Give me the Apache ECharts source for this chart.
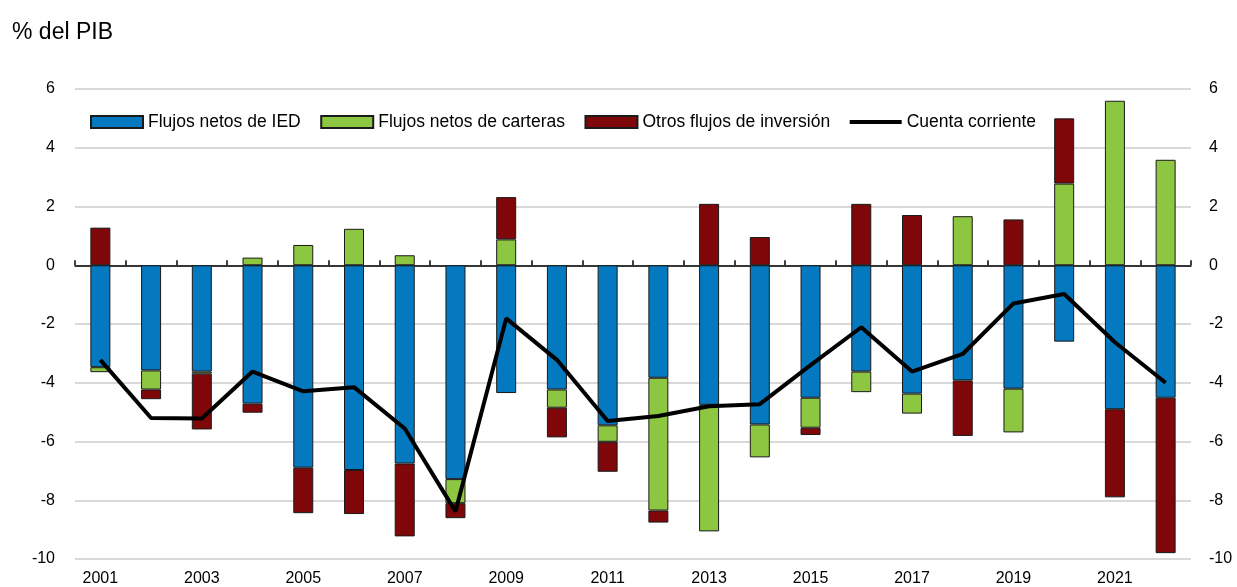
<!DOCTYPE html>
<html>
<head>
<meta charset="utf-8">
<script src="https://cdn.jsdelivr.net/npm/echarts@6/dist/echarts.min.js"></script>
<style>
html, body { margin: 0; padding: 0; background: #fff; }
#main { width: 1237px; height: 587px; }
</style>
</head>
<body>
<div id="main"></div>
<script>
// datos, % del PIB
var years = ["2001","2002","2003","2004","2005","2006","2007","2008","2009","2010","2011",
             "2012","2013","2014","2015","2016","2017","2018","2019","2020","2021","2022"];
var ied = [-3.47,-3.58,-3.62,-4.71,-6.89,-6.97,-6.75,-7.28,-4.35,-4.23,-5.45,
           -3.83,-4.75,-5.42,-4.51,-3.62,-4.37,-3.92,-4.20,-2.60,-4.90,-4.51];
var carteras = [-0.17,-0.65,-0.07,0.26,0.69,1.24,0.34,-0.82,0.88,-0.62,-0.56,
                -4.52,-4.31,-1.12,-1.02,-0.70,-0.68,1.67,-1.49,2.78,5.60,3.59];
var otros = [1.28,-0.33,-1.90,-0.31,-1.55,-1.50,-2.48,-0.51,1.44,-1.01,-1.02,
             -0.41,2.09,0.96,-0.25,2.09,1.71,-1.89,1.56,2.22,-3.00,-5.29];
var cuenta = [-3.22,-5.20,-5.22,-3.62,-4.29,-4.15,-5.56,-8.38,-1.81,-3.22,-5.30,
              -5.13,-4.80,-4.73,-3.40,-2.11,-3.62,-3.02,-1.30,-0.98,-2.62,-4.00];
var yMin = -10, yMax = 6, yStep = 2;

var fontName = "Liberation Sans, Arial, sans-serif";
var txtColor = "#000";

function barSerie(name, data, color) {
	return {
		name: name,
		type: "bar",
		stack: "flujos",
		barWidth: 20,
		data: data,
		itemStyle: { color: color, borderColor: "#1a1a1a", borderWidth: 1 }
	};
}

var myChart = echarts.init(document.getElementById("main"));
var option = {
	animation: false,
	textStyle: { fontFamily: fontName },
	title: {
		text: "% del PIB",
		left: 7, top: 16,
		textStyle: { fontSize: 23, fontWeight: "normal", color: txtColor, fontFamily: fontName }
	},
	legend: {
		left: 85, top: 108,
		itemWidth: 52, itemHeight: 12, itemGap: 19.5,
		textStyle: { fontSize: 17.5, color: txtColor, fontFamily: fontName },
		data: [
			{ name: "Flujos netos de IED", icon: "rect" },
			{ name: "Flujos netos de carteras", icon: "rect" },
			{ name: "Otros flujos de inversión", icon: "rect" },
			{ name: "Cuenta corriente", icon: "path://M0,0 L52,0 L52,4 L0,4 Z" }
		]
	},
	grid: { left: 75, right: 46, top: 89, bottom: 26 },
	xAxis: [{
		type: "category",
		data: years,
		axisLine: { show: false, onZero: false },
		axisTick: { show: false },
		axisLabel: { interval: 1, fontSize: 16, color: txtColor, margin: 12, fontFamily: fontName },
		splitLine: { show: false }
	}, {
		type: "category",
		data: years,
		position: "bottom",
		axisLine: { show: true, onZero: true, lineStyle: { color: "#000", width: 1.5 } },
		axisTick: { show: true, inside: true, length: 5, lineStyle: { color: "#000", width: 1.5 } },
		axisLabel: { show: false },
		splitLine: { show: false }
	}],
	yAxis: [{
		type: "value",
		min: yMin, max: yMax, interval: yStep,
		axisLine: { show: false },
		axisTick: { show: false },
		axisLabel: { fontSize: 16, color: txtColor, margin: 20, fontFamily: fontName },
		splitLine: { lineStyle: { color: "#d9d9d9", width: 2 } }
	}, {
		type: "value",
		min: yMin, max: yMax, interval: yStep,
		axisLine: { show: false },
		axisTick: { show: false },
		axisLabel: { fontSize: 16, color: txtColor, margin: 18, fontFamily: fontName },
		splitLine: { show: false }
	}],
	series: [
		barSerie("Flujos netos de IED", ied, "#0579bf"),
		barSerie("Flujos netos de carteras", carteras, "#8dc641"),
		barSerie("Otros flujos de inversión", otros, "#7f0709"),
		{
			name: "Cuenta corriente",
			type: "line",
			data: cuenta,
			symbol: "none",
			z: 5,
			lineStyle: { color: "#000", width: 4 },
			itemStyle: { color: "#000" }
		}
	]
};
myChart.setOption(option);
</script>
</body>
</html>
